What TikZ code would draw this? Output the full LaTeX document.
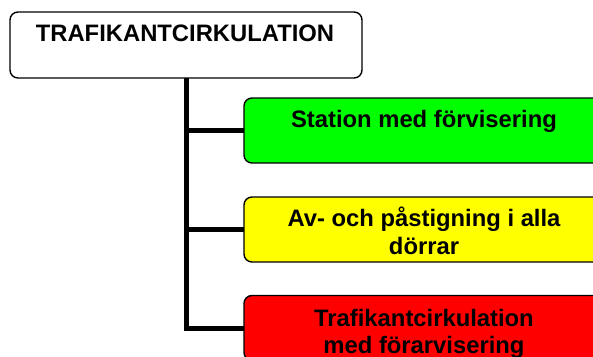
\documentclass[tikz,border=0pt]{standalone}
\usepackage{fontspec}
\setmainfont{Liberation Sans}
\begin{document}
\begin{tikzpicture}[x=1pt,y=-1pt,
  box/.style={draw=black,line width=1.4pt,rounded corners=8pt,
    minimum height=65pt,inner sep=0pt,outer sep=0pt},
  topbox/.style={box,minimum width=352pt,minimum height=66pt,fill=white},
  subbox/.style={box,minimum width=360pt},
  caption/.style={anchor=base,inner sep=0pt,
    font=\fontsize{23.8pt}{27pt}\selectfont\bfseries},
  trunk/.style={line width=5pt,black,line join=miter}]
\useasboundingbox (0,0) rectangle (593,356);
\clip (0,0) rectangle (593,356);
\fill[white] (0,0) rectangle (593,356);

% boxes
\node[topbox] (top) at (186,45) {};
\node[subbox,fill={rgb,255:red,0;green,255;blue,0}] (green) at (424,130.5) {};
\node[subbox,fill={rgb,255:red,255;green,255;blue,0}] (yellow) at (424,229.5) {};
\node[subbox,fill={rgb,255:red,255;green,0;blue,0}] (red) at (424,328) {};

% tree connectors
\draw[trunk] (top.south) |- (red.west);
\draw[trunk] (top.south) |- (green.west);
\draw[trunk] (top.south) |- (yellow.west);

% texts
\node[caption] (ttop) at (185,41.7) {TRAFIKANTCIRKULATION};
\node[caption] (tgreen) at (424,127.3) {Station med förvisering};
\node[caption] (tyellow1) at (424,226.7) {Av- och påstigning i alla};
\node[caption] (tyellow2) at (424,254) {dörrar};
\node[caption] (tred1) at (424,326.7) {Trafikantcirkulation};
\node[caption] (tred2) at (424,353.5) {med förarvisering};
\end{tikzpicture}
\end{document}
